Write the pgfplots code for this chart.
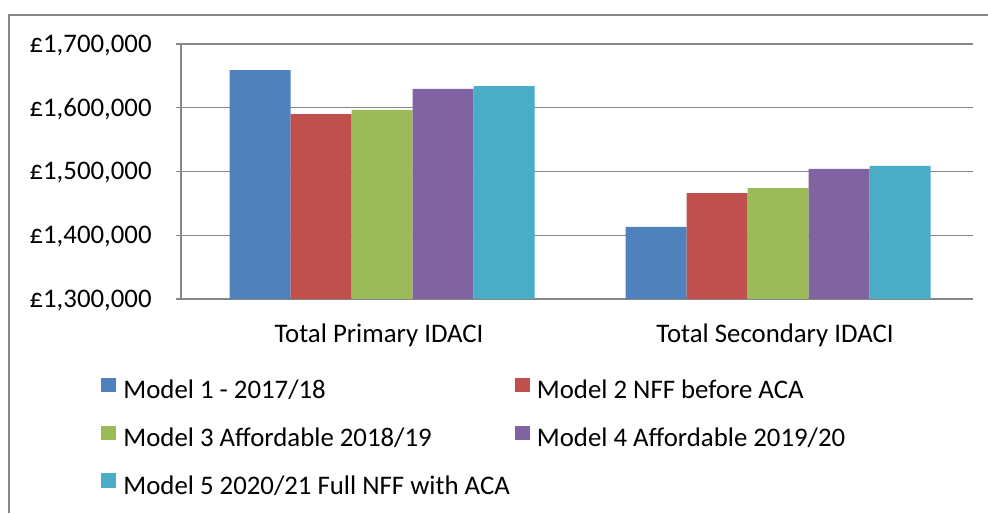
\documentclass[border=0pt]{standalone}
\usepackage{fontspec}
\setmainfont{Carlito}
\usepackage{pgfplots}
\pgfplotsset{compat=1.18}
\definecolor{mA}{HTML}{4F81BD}
\definecolor{mB}{HTML}{C0504D}
\definecolor{mC}{HTML}{9BBB59}
\definecolor{mD}{HTML}{8064A2}
\definecolor{mE}{HTML}{4BACC6}
\definecolor{gridc}{HTML}{868686}

\begin{document}
\fontsize{13.4}{15}\selectfont
\begin{tikzpicture}
\useasboundingbox (0,0) rectangle (494pt,256.5pt);
% outer chart frame (right and bottom edges fall outside the picture)
\draw[gridc, line width=0.7pt] (4.5pt,0pt) -- (4.5pt,249pt) -- (494pt,249pt);
\begin{axis}[
  at={(90.5pt,107pt)}, anchor=south west,
  scale only axis, width=396pt, height=127.5pt,
  xmin=-0.5, xmax=1.5, ymin=1300000, ymax=1700000,
  ybar=0pt, bar width=30.5pt,
  every axis plot/.append style={xshift=1.5pt},
  axis x line*=bottom, axis y line*=left,
  axis line style={gridc, line width=0.7pt, -},
  ymajorgrids, grid style={gridc, line width=0.7pt},
  scaled y ticks=false,
  ytick={1300000,1400000,1500000,1600000,1700000},
  yticklabels={{£1,300,000},{£1,400,000},{£1,500,000},{£1,600,000},{£1,700,000}},
  ytick align=outside, major tick length=2.5pt,
  ytick style={gridc, line width=0.7pt},
  yticklabel style={anchor=base east, inner sep=0pt, yshift=-4.2pt, xshift=-12pt},
  xtick={0,1}, xticklabels={Total Primary IDACI, Total Secondary IDACI},
  xtick style={draw=none},
  xticklabel style={anchor=base, inner sep=0pt, yshift=-19pt},
  legend columns=2,
  legend cell align=left,
  legend style={at={(-0.10101,-0.2854)}, anchor=north west, draw=none, fill=none,
    inner sep=0pt, row sep=8.2pt,
    nodes={inner sep=0pt, text height=9pt, text depth=2.5pt},
    /tikz/every odd column/.append style={column sep=3.5pt},
    /tikz/every even column/.append style={column sep=2.5pt}},
  legend image code/.code={%
    \path[fill=none, draw=none] (0pt,-4pt) rectangle (7.5pt,10pt);
    \fill[#1] (0pt,0pt) rectangle (7.5pt,7.25pt);},
]
\addplot[fill=mA, draw=none] coordinates {(0,1659000) (1,1413000)};
\addlegendentry{Model 1 - 2017/18}
\addplot[fill=mB, draw=none] coordinates {(0,1590000) (1,1466000)};
\addlegendentry{Model 2 NFF before ACA}
\addplot[fill=mC, draw=none] coordinates {(0,1596500) (1,1474000)};
\addlegendentry{Model 3 Affordable 2018/19}
\addplot[fill=mD, draw=none] coordinates {(0,1629500) (1,1504000)};
\addlegendentry{Model 4 Affordable 2019/20}
\addplot[fill=mE, draw=none] coordinates {(0,1634000) (1,1509000)};
\addlegendentry{Model 5 2020/21 Full NFF with ACA}
% category boundary ticks below the x axis
\draw[gridc, line width=0.7pt] (axis cs:-0.5,1300000) -- ++(0pt,-2.5pt);
\draw[gridc, line width=0.7pt] (axis cs:0.5,1300000) -- ++(0pt,-2.5pt);
\draw[gridc, line width=0.7pt] (axis cs:1.5,1300000) -- ++(0pt,-2.5pt);
\end{axis}
\end{tikzpicture}
\end{document}
